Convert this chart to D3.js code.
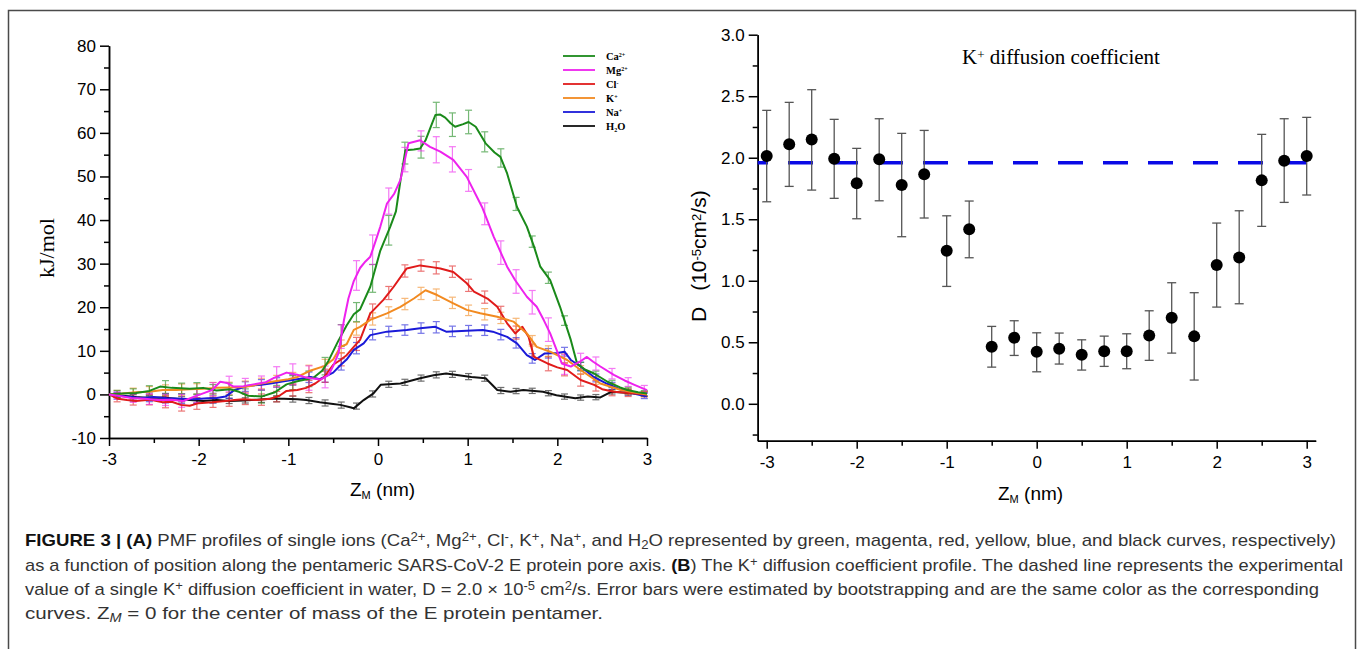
<!DOCTYPE html>
<html>
<head>
<meta charset="utf-8">
<script src="https://cdn.jsdelivr.net/npm/d3@7"></script>
<style>
body { margin: 0; background: #fff; }
svg { display: block; }
.axis text { font-family: "Liberation Sans", Arial, sans-serif; fill: #000; }
.axis path, .axis line { stroke: #000; stroke-width: 1.5; }
</style>
</head>
<body>
<div id="fig"></div>
<script>
// ---- Panel A: PMF profiles, [z (nm), kJ/mol] ----
const caPmf = [[-3,0],[-2.85,0.2],[-2.7,0.3],[-2.55,0.8],[-2.43,1.8],[-2.3,1.5],[-2.1,1.3],[-1.95,1.5],[-1.8,0.9],[-1.65,1.2],[-1.55,0.6],[-1.45,-0.3],[-1.3,-0.5],[-1.15,0.5],[-1.02,2.3],[-0.9,3.0],[-0.72,3.8],[-0.62,5.5],[-0.55,7.8],[-0.45,12],[-0.35,15.8],[-0.27,18.4],[-0.2,19.5],[-0.086,24.7],[0.026,33],[0.137,38.5],[0.2,42],[0.25,49],[0.305,56],[0.4,56.2],[0.47,56.4],[0.53,58.3],[0.6,62],[0.64,64.1],[0.695,64.2],[0.75,63.5],[0.81,62.2],[0.86,61.4],[0.95,62],[1.01,62.5],[1.09,61.4],[1.2,57.6],[1.3,55.5],[1.365,54.5],[1.44,50.7],[1.55,43],[1.66,38.5],[1.74,33.9],[1.81,29.3],[1.92,26.2],[2.03,20.1],[2.15,12.5],[2.22,7.1],[2.3,5.8],[2.41,4.8],[2.56,2.9],[2.7,1.6],[2.78,1],[2.9,0.5],[3,0.2]];
const mgPmf = [[-3,0],[-2.9,-0.3],[-2.75,-0.8],[-2.6,-1],[-2.45,-1.3],[-2.3,-1.2],[-2.17,-1.5],[-2.05,-0.5],[-1.95,0.25],[-1.85,1.0],[-1.76,2.9],[-1.68,2.6],[-1.61,1.8],[-1.5,1.9],[-1.39,2.3],[-1.25,2.8],[-1.16,3.8],[-1.02,5],[-0.9,4.5],[-0.79,3.8],[-0.64,3.4],[-0.55,4.5],[-0.5,6.5],[-0.44,9.5],[-0.38,17],[-0.33,22],[-0.27,26],[-0.2,29],[-0.14,30.5],[-0.086,31.6],[-0.03,35],[0.026,38.5],[0.1,43.8],[0.18,46],[0.25,49.2],[0.34,57.6],[0.47,58.3],[0.58,56.8],[0.695,55.7],[0.84,53.8],[0.99,49.9],[1.16,43],[1.29,36.2],[1.44,29.3],[1.53,26.2],[1.66,22.4],[1.77,20.1],[1.85,17],[1.92,14],[2.05,7.1],[2.15,6.4],[2.25,7.5],[2.33,8.6],[2.4,7.5],[2.48,6.4],[2.63,4.5],[2.75,3.2],[2.86,2.2],[3,1]];
const clPmf = [[-3,0],[-2.9,-1],[-2.8,-1.3],[-2.7,-1.5],[-2.55,-1.2],[-2.4,-1.8],[-2.3,-1.7],[-2.2,-2.4],[-2.1,-2.6],[-2.0,-2.0],[-1.85,-1.8],[-1.7,-1.5],[-1.6,-1.3],[-1.5,-1.1],[-1.35,-1.3],[-1.2,-1.0],[-1.1,-0.3],[-1.02,0.8],[-0.9,1.0],[-0.8,1.5],[-0.7,2.5],[-0.6,4.0],[-0.5,6.8],[-0.42,7.9],[-0.35,9],[-0.27,10.9],[-0.2,12.5],[-0.086,18.6],[0.06,21.7],[0.175,24.7],[0.32,28.9],[0.47,29.6],[0.6,29.2],[0.695,28.9],[0.84,28.1],[0.99,25.5],[1.07,23.6],[1.22,22],[1.33,20.1],[1.44,16.3],[1.53,14],[1.61,15.5],[1.68,13.2],[1.74,8.6],[1.89,7.1],[2.0,6.2],[2.11,5.6],[2.26,3.3],[2.41,2.2],[2.5,1.2],[2.63,0.6],[2.8,0.3],[3,0]];
const kPmf = [[-3,0],[-2.85,0.2],[-2.7,0.5],[-2.55,0.6],[-2.4,1.0],[-2.25,1.0],[-2.1,1.2],[-1.95,1.3],[-1.8,1.5],[-1.65,1.6],[-1.5,1.7],[-1.4,2.0],[-1.3,2.5],[-1.15,3.0],[-1.0,3.5],[-0.9,4.0],[-0.75,5.5],[-0.6,6.5],[-0.5,8],[-0.42,10.9],[-0.35,11.5],[-0.27,14.8],[-0.2,15.5],[-0.086,17.1],[0.1,18.6],[0.25,20.1],[0.4,22],[0.53,23.9],[0.66,22.8],[0.84,20.9],[0.99,19.4],[1.14,18.6],[1.33,17.8],[1.51,16.7],[1.66,14],[1.77,10.9],[1.92,9.8],[2.11,7.9],[2.26,5.6],[2.48,2.5],[2.71,1],[2.85,0.5],[3,0]];
const naPmf = [[-3,0],[-2.9,-0.3],[-2.8,-0.5],[-2.65,-0.8],[-2.5,-0.6],[-2.35,-0.9],[-2.2,-1.0],[-2.05,-1.1],[-1.9,-0.9],[-1.8,-0.8],[-1.7,-0.5],[-1.6,1.0],[-1.45,2.0],[-1.3,2.2],[-1.2,2.5],[-1.05,3.0],[-0.9,3.5],[-0.75,4.0],[-0.65,3.5],[-0.55,4.5],[-0.5,5.0],[-0.42,6.7],[-0.35,8],[-0.27,10.2],[-0.16,11.7],[-0.086,13.6],[0.1,14.4],[0.32,14.8],[0.47,15.2],[0.64,15.5],[0.76,14.4],[0.99,14.6],[1.17,14.8],[1.28,14.4],[1.44,13.2],[1.55,11.7],[1.66,9.0],[1.75,7.9],[1.86,9.4],[2.0,9.5],[2.08,9.8],[2.15,7.9],[2.26,6.4],[2.4,4.1],[2.55,2.5],[2.72,1.0],[2.85,0.2],[3,-0.5]];
const waterPmf = [[-3,0],[-2.85,-0.3],[-2.7,-0.6],[-2.55,-0.8],[-2.4,-0.7],[-2.25,-1.0],[-2.1,-1.3],[-1.95,-1.5],[-1.8,-1.3],[-1.65,-1.5],[-1.5,-1.4],[-1.35,-1.2],[-1.2,-1.0],[-1.05,-1.0],[-0.9,-1.1],[-0.8,-1.3],[-0.65,-1.8],[-0.5,-2.2],[-0.42,-2.4],[-0.3,-3.0],[-0.27,-3.2],[-0.16,-1.3],[-0.05,0.25],[0.03,2.2],[0.25,2.5],[0.47,3.7],[0.62,4.4],[0.76,4.8],[0.9,4.4],[1.04,4.0],[1.2,3.7],[1.33,1.0],[1.48,0.6],[1.62,1.0],[1.84,0.6],[1.99,-0.2],[2.2,-0.9],[2.34,-0.5],[2.48,-0.7],[2.6,0.6],[2.77,0.4],[3,0]];

// error bar positions (nm) and half-widths (kJ/mol)
const errZ = [-2.91,-2.73,-2.55,-2.37,-2.19,-2.02,-1.84,-1.66,-1.48,-1.30,-1.13,-0.95,-0.77,-0.59,-0.41,-0.24,-0.06,0.12,0.30,0.48,0.65,0.83,1.01,1.19,1.37,1.54,1.72,1.90,2.08,2.26,2.43,2.61,2.79,2.97];
const caErr = [0.8,1.0,1.2,1.5,1.2,1.3,1.2,1.4,1.3,1.5,1.3,1.6,1.8,2.0,2.5,2.2,3.2,3.4,2.5,2.5,2.9,2.7,2.7,2.3,2.1,1.5,1.3,1.3,1.1,0.9,0.8,0.8,0.7,0.6];
const mgErr = [0.8,1.0,1.2,1.3,1.5,1.6,1.5,1.8,1.7,1.6,2.3,2.3,2.8,2.5,2.7,3.4,3.4,3.0,2.8,2.3,3.0,2.9,2.5,2.5,2.7,2.7,2.7,2.7,2.3,1.8,1.5,1.2,1.0,0.8];
const clErr = [0.8,1.0,1.2,1.3,1.4,1.3,1.2,1.3,1.2,1.3,1.2,1.3,1.4,1.5,1.5,1.5,1.6,1.5,1.4,1.3,1.4,1.3,1.4,1.4,1.5,1.5,1.4,1.6,1.5,1.4,1.2,1.0,0.8,0.6];
const kErr = [0.8,1.0,1.2,1.2,1.3,1.2,1.3,1.2,1.3,1.2,1.3,1.3,1.4,1.4,1.5,1.5,1.4,1.3,1.3,1.4,1.3,1.3,1.2,1.3,1.3,1.3,1.2,1.2,1.1,1.0,0.9,0.8,0.7,0.6];
const naErr = [0.8,0.9,1.0,1.1,1.1,1.0,1.1,1.0,1.1,1.2,1.1,1.2,1.2,1.3,1.3,1.3,1.2,1.2,1.2,1.2,1.3,1.2,1.2,1.2,1.2,1.2,1.1,1.1,1.0,1.0,0.9,0.8,0.7,0.6];
const waterErr = [0.5,0.5,0.6,0.6,0.6,0.6,0.6,0.6,0.6,0.7,0.7,0.7,0.7,0.7,0.7,0.7,0.7,0.7,0.7,0.7,0.7,0.7,0.7,0.7,0.7,0.6,0.6,0.6,0.6,0.6,0.6,0.5,0.5,0.5];

const ionLabels = [['Ca','2+','sup'],['Mg','2+','sup'],['Cl','-','sup'],['K','+','sup'],['Na','+','sup'],['H','2','sub','O']];
const ionColors = ['#1a8a1a','#ee22ee','#e01b1b','#f28a20','#1a1ad8','#111111'];

// ---- Panel B: K+ diffusion coefficient (1e-5 cm^2/s) ----
const dZ = [-3,-2.75,-2.5,-2.25,-2,-1.75,-1.5,-1.25,-1,-0.75,-0.5,-0.25,0,0.25,0.5,0.75,1,1.25,1.5,1.75,2,2.25,2.5,2.75,3];
const dVal = [2.014,2.109,2.149,1.992,1.792,1.987,1.778,1.865,1.244,1.418,0.463,0.537,0.423,0.447,0.398,0.428,0.428,0.556,0.699,0.548,1.128,1.19,1.816,1.976,2.014];
const dHi = [2.385,2.45,2.553,2.312,2.076,2.317,2.198,2.222,1.528,1.648,0.629,0.675,0.577,0.575,0.52,0.55,0.569,0.756,0.984,0.903,1.469,1.569,2.19,2.317,2.328];
const dLo = [1.642,1.767,1.737,1.67,1.504,1.65,1.358,1.51,0.954,1.187,0.298,0.393,0.26,0.323,0.274,0.304,0.285,0.353,0.412,0.193,0.786,0.813,1.442,1.637,1.697];
const dWater = 1.96;

// ---- ticks ----
const pmfTicks = [-10,0,10,20,30,40,50,60,70,80];
const pmfMinor = [-5,5,15,25,35,45,55,65,75];
const zTicks = [-3,-2,-1,0,1,2,3];
const zMinor = [-2.5,-1.5,-0.5,0.5,1.5,2.5];
const dTicks = [0,0.5,1,1.5,2,2.5,3];
const dMinor = [-0.25,0.25,0.75,1.25,1.75,2.25,2.75];

const sans = '"Liberation Sans", Arial, sans-serif';
const serif = '"Liberation Serif", "Times New Roman", serif';

// plain hyphen for negatives, like the original
const intFmt = d => String(d);
const oneDec = d => d.toFixed(1);

const svg = d3.select('#fig').append('svg')
    .attr('width', 1358)
    .attr('height', 649);

svg.append('rect').attr('width', 1358).attr('height', 649).attr('fill', '#fff');
// figure frame
svg.append('rect')
    .attr('x', 8.5).attr('y', 10.5)
    .attr('width', 1347).attr('height', 700)
    .attr('fill', 'none').attr('stroke', '#4a4a4a').attr('stroke-width', 1.5);

// helper: major + minor ticks for an axis
function drawAxis(g, axisFn, scale, major, minor, size, pad, fmt) {
    g.append('g').attr('class', 'axis')
        .call(axisFn(scale).tickValues(minor).tickSize(5).tickSizeOuter(0).tickFormat(''));
    g.append('g').attr('class', 'axis')
        .call(axisFn(scale).tickValues(major).tickSize(size).tickSizeOuter(0).tickPadding(pad).tickFormat(fmt))
        .selectAll('text').style('font-size', '17px');
}

// ================= Panel A =================
const xL = d3.scaleLinear().domain([-3, 3]).range([109, 647]);
const yL = d3.scaleLinear().domain([-10, 80]).range([438, 45.7]);
const gA = svg.append('g');

drawAxis(gA.append('g').attr('transform', `translate(${xL(-3)},0)`), d3.axisLeft, yL, pmfTicks, pmfMinor, 9, 4, intFmt);
drawAxis(gA.append('g').attr('transform', `translate(0,${yL(-10)})`), d3.axisBottom, xL, zTicks, zMinor, 8, 7, intFmt);

const pmfSeries = [waterPmf, naPmf, clPmf, kPmf, caPmf, mgPmf];
const pmfErrs = [waterErr, naErr, clErr, kErr, caErr, mgErr];
const pmfColorIdx = [5, 4, 2, 3, 0, 1];

const lineA = d3.line().x(d => xL(d[0])).y(d => yL(d[1]));

pmfSeries.forEach((s, i) => {
    const col = ionColors[pmfColorIdx[i]];
    // centre of each bar
    const at = d3.scaleLinear().domain(s.map(d => d[0])).range(s.map(d => d[1]));
    const bars = errZ.map((z, j) => ({ z: z, v: at(z), e: pmfErrs[i][j] }));
    const eb = gA.append('g').attr('stroke', col).attr('stroke-width', 1.2).attr('opacity', 0.6);
    eb.selectAll('.v').data(bars).enter().append('line')
        .attr('x1', d => xL(d.z)).attr('x2', d => xL(d.z))
        .attr('y1', d => yL(d.v - d.e)).attr('y2', d => yL(d.v + d.e));
    eb.selectAll('.t').data(bars).enter().append('line')
        .attr('x1', d => xL(d.z) - 3.5).attr('x2', d => xL(d.z) + 3.5)
        .attr('y1', d => yL(d.v + d.e)).attr('y2', d => yL(d.v + d.e));
    eb.selectAll('.b').data(bars).enter().append('line')
        .attr('x1', d => xL(d.z) - 3.5).attr('x2', d => xL(d.z) + 3.5)
        .attr('y1', d => yL(d.v - d.e)).attr('y2', d => yL(d.v - d.e));
});

pmfSeries.forEach((s, i) => {
    gA.append('path').datum(s)
        .attr('fill', 'none')
        .attr('stroke', ionColors[pmfColorIdx[i]])
        .attr('stroke-width', 2)
        .attr('stroke-linejoin', 'round')
        .attr('d', lineA);
});

// legend
const leg = gA.append('g');
ionLabels.forEach((lab, i) => {
    const y = 56 + i * 14;
    leg.append('line').attr('x1', 563).attr('x2', 595).attr('y1', y).attr('y2', y)
        .attr('stroke', ionColors[i]).attr('stroke-width', 1.8);
    const t = leg.append('text').attr('x', 606).attr('y', y + 3.5)
        .style('font-family', serif).style('font-size', '10.5px').style('font-weight', 'bold');
    t.append('tspan').text(lab[0]);
    t.append('tspan').attr('baseline-shift', lab[2] === 'sup' ? '45%' : '-25%')
        .style('font-size', '6px').text(lab[1]);
    if (lab[3]) t.append('tspan').text(lab[3]);
});

// axis titles
gA.append('text')
    .attr('transform', 'translate(54,248) rotate(-90)')
    .attr('text-anchor', 'middle')
    .style('font-family', serif).style('font-size', '22px')
    .text('kJ/mol');

const xtA = gA.append('text').attr('x', 350).attr('y', 496)
    .style('font-family', sans).style('font-size', '19px');
xtA.append('tspan').text('Z');
xtA.append('tspan').attr('baseline-shift', '-28%').style('font-size', '11px').text('M');
xtA.append('tspan').text(' (nm)');

// ================= Panel B =================
const xR = d3.scaleLinear().domain([-3.1, 3.1]).range([757.7, 1315.7]);
const yR = d3.scaleLinear().domain([-0.3, 3]).range([440.7, 34.7]);
const gB = svg.append('g');

drawAxis(gB.append('g').attr('transform', `translate(${xR(-3.1)},0)`), d3.axisLeft, yR, dTicks, dMinor, 9, 4, oneDec);
drawAxis(gB.append('g').attr('transform', `translate(0,${yR(-0.3)})`), d3.axisBottom, xR, zTicks, zMinor, 8, 7, intFmt);

// experimental value in water
gB.append('line')
    .attr('x1', xR(-3.1)).attr('x2', xR(3))
    .attr('y1', yR(dWater)).attr('y2', yR(dWater))
    .attr('stroke', '#0a0ae6').attr('stroke-width', 3.5)
    .attr('stroke-dasharray', '25,20').attr('stroke-dashoffset', 14.7);

const pts = dZ.map((z, i) => ({ z: z, v: dVal[i], hi: dHi[i], lo: dLo[i] }));
const ebB = gB.append('g').attr('stroke', '#555').attr('stroke-width', 1.3);
ebB.selectAll('.v').data(pts).enter().append('line')
    .attr('x1', d => xR(d.z)).attr('x2', d => xR(d.z))
    .attr('y1', d => yR(d.lo)).attr('y2', d => yR(d.hi));
ebB.selectAll('.t').data(pts).enter().append('line')
    .attr('x1', d => xR(d.z) - 4.5).attr('x2', d => xR(d.z) + 4.5)
    .attr('y1', d => yR(d.hi)).attr('y2', d => yR(d.hi));
ebB.selectAll('.b').data(pts).enter().append('line')
    .attr('x1', d => xR(d.z) - 4.5).attr('x2', d => xR(d.z) + 4.5)
    .attr('y1', d => yR(d.lo)).attr('y2', d => yR(d.lo));
gB.selectAll('.dot').data(pts).enter().append('circle')
    .attr('cx', d => xR(d.z)).attr('cy', d => yR(d.v))
    .attr('r', 6).attr('fill', '#000');

// title
const ttl = gB.append('text').attr('x', 1061).attr('y', 64).attr('text-anchor', 'middle')
    .style('font-family', serif).style('font-size', '21px');
ttl.append('tspan').text('K');
ttl.append('tspan').attr('baseline-shift', '40%').style('font-size', '13px').text('+');
ttl.append('tspan').text(' diffusion coefficient');

// y title
const ytB = gB.append('text').attr('transform', 'translate(706,322) rotate(-90)')
    .style('font-family', sans).style('font-size', '21px');
ytB.append('tspan').text('D');
ytB.append('tspan').attr('dx', 16).text('(10');
ytB.append('tspan').attr('baseline-shift', '40%').style('font-size', '13px').text('-5');
ytB.append('tspan').text('cm');
ytB.append('tspan').attr('baseline-shift', '40%').style('font-size', '13px').text('2');
ytB.append('tspan').text('/s)');

const xtB = gB.append('text').attr('x', 998).attr('y', 500)
    .style('font-family', sans).style('font-size', '19px');
xtB.append('tspan').text('Z');
xtB.append('tspan').attr('baseline-shift', '-28%').style('font-size', '11px').text('M');
xtB.append('tspan').text(' (nm)');

// ================= Caption =================
const capLines = [
    [['FIGURE 3 | (A)', 'b'], [' PMF profiles of single ions (Ca'], ['2+', 'sup'], [', Mg'], ['2+', 'sup'], [', Cl'], ['-', 'sup'], [', K'], ['+', 'sup'], [', Na'], ['+', 'sup'], [', and H'], ['2', 'sub'], ['O represented by green, magenta, red, yellow, blue, and black curves, respectively)']],
    [['as a function of position along the pentameric SARS-CoV-2 E protein pore axis. '], ['(B', 'b'], [') The K'], ['+', 'sup'], [' diffusion coefficient profile. The dashed line represents the experimental']],
    [['value of a single K'], ['+', 'sup'], [' diffusion coefficient in water, D = 2.0 \u00d7 10'], ['-5', 'sup'], [' cm'], ['2', 'sup'], ['/s. Error bars were estimated by bootstrapping and are the same color as the corresponding']],
    [['curves. Z'], ['M', 'subi'], [' = 0 for the center of mass of the E protein pentamer.']]
];
const capWidths = [1311, 1318, 1294, 578];
const capY = [546, 571, 595, 619];

capLines.forEach((segs, i) => {
    const t = svg.append('text')
        .attr('x', 25).attr('y', capY[i])
        .attr('textLength', capWidths[i]).attr('lengthAdjust', 'spacingAndGlyphs')
        .style('font-family', sans).style('font-size', '17px').style('fill', '#333');
    segs.forEach(s => {
        const sp = t.append('tspan').text(s[0]);
        if (s[1] === 'b') sp.style('font-weight', 'bold').style('fill', '#111');
        if (s[1] === 'sup') sp.attr('baseline-shift', '40%').style('font-size', '12px');
        if (s[1] === 'sub') sp.attr('baseline-shift', '-25%').style('font-size', '12px');
        if (s[1] === 'subi') sp.attr('baseline-shift', '-25%').style('font-size', '12px').style('font-style', 'italic');
    });
});
</script>
</body>
</html>
